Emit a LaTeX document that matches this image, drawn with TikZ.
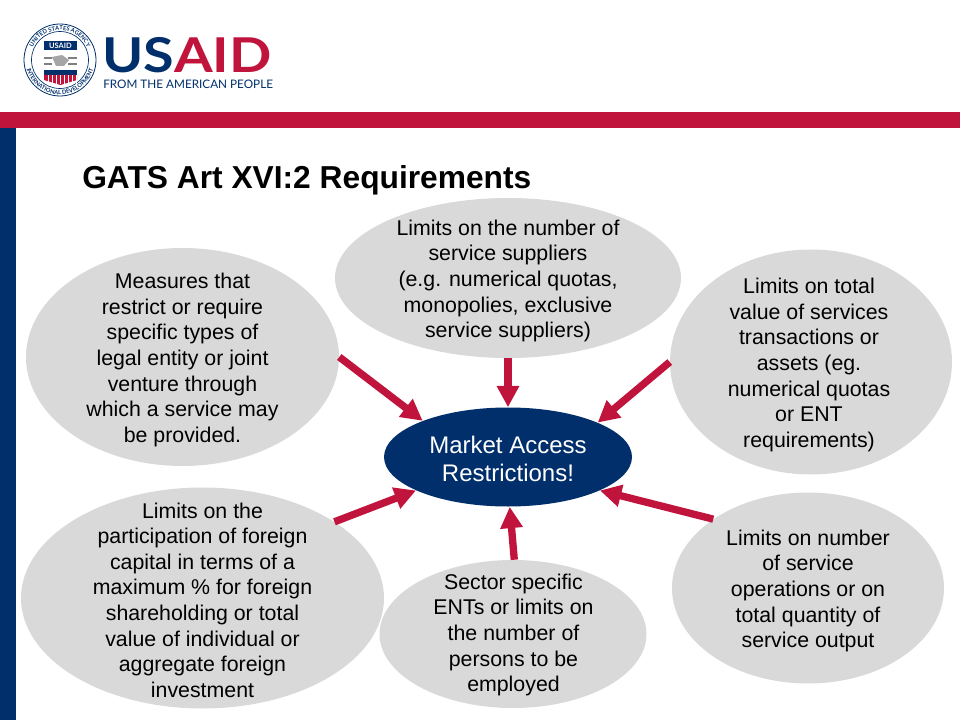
\documentclass[tikz,border=0pt]{standalone}
\usepackage{fontspec}
\setmainfont{Liberation Sans}
\newfontfamily\logofont{Lato}
\newfontfamily\wordfont[FakeStretch=1.16]{Lato}
\usetikzlibrary{arrows.meta,shapes.geometric,decorations.text}
\definecolor{usred}{HTML}{C1143C}
\definecolor{usblue}{HTML}{002F6C}
\definecolor{bubblegray}{HTML}{D9D9D9}
\tikzset{
  bubble/.style={ellipse,fill=bubblegray,inner sep=0pt},
  bubbletext/.style={align=center,inner sep=0.75pt,font=\fontsize{16}{19.2}\selectfont},
  pointer/.style={draw=usred,line width=5.5pt,-{Triangle[length=16pt,width=16pt]}},
}
\begin{document}
\begin{tikzpicture}[x=0.75pt,y=0.75pt,yscale=-1]
\useasboundingbox (0,0) rectangle (960,720);

%Shape: Bands
\fill [usred] (0,112) rectangle (960,128);
\fill [usblue] (0,128) rectangle (16,720);

%Shape: Seal
\draw [usblue,line width=0.6pt] (60,60) circle (36);
\draw [usblue,line width=0.5pt] (60,60) circle (28.5);
\path [decorate,decoration={text along path,text align=center,
  text={|\logofont\bfseries\fontsize{4.3}{5}\selectfont\color{usblue}|UNITED STATES AGENCY}}]
  (30,60) arc [start angle=180,end angle=360,radius=30];
\path [decorate,decoration={text along path,text align=center,
  text={|\logofont\bfseries\fontsize{4.3}{5}\selectfont\color{usblue}|INTERNATIONAL DEVELOPMENT}}]
  (25.5,60) arc [start angle=180,end angle=0,radius=34.5];
%Shape: Seal inner
\fill [usblue] (44,41) rectangle (77,50);
\draw [gray,line width=1pt] (44,58) -- (52,58) (68,58) -- (77,58) (44,64) -- (52,64) (68,64) -- (77,64);
\fill [gray!70] (52,57) -- (62,55) -- (69,60) -- (64,66) -- (56,66) -- cycle;
\fill [usblue] (44,70) rectangle (77,75);
\fill [usred] (44,75) -- (77,75) -- (77,80) -- (60.5,85) -- (44,80) -- cycle;
\foreach \stripe in {48,52,...,76}
  \draw [white,line width=0.7pt] (\stripe,75) -- (\stripe,84);

% Text Node
\draw (60.5,45.5) node (sealname) [inner sep=0pt,text=white,font=\logofont\bfseries\fontsize{5.6}{6}\selectfont] {USAID};
% Text Node
\draw (102,72.5) node (wordmark) [anchor=base west,inner sep=0pt,font=\wordfont\bfseries\fontsize{36}{36}\selectfont] {\textcolor{usblue}{US}\textcolor{usred}{AID}};
% Text Node
\draw (103,89) node (tagline) [anchor=base west,inner sep=0pt,text=usblue,font=\logofont\fontsize{8.8}{10}\selectfont] {FROM THE AMERICAN PEOPLE};
% Text Node
\draw (82,180) node (title) [anchor=west,inner sep=0pt,font=\bfseries\fontsize{23.8}{26}\selectfont] {GATS Art XVI:2 Requirements};

%Shape: Ellipse
\node (suppliers) [bubble,minimum width=259.5pt,minimum height=120pt] at (508,278) {};
\node (measures) [bubble,minimum width=234.75pt,minimum height=163.5pt] at (182.5,357) {};
\node (transactions) [bubble,minimum width=211.5pt,minimum height=168.75pt] at (811,362) {};
\node (capital) [bubble,minimum width=272.25pt,minimum height=165.75pt] at (202.5,598) {};
\node (persons) [bubble,minimum width=200.25pt,minimum height=111pt] at (513,634) {};
\node (operations) [bubble,minimum width=204pt,minimum height=143.25pt] at (808,588) {};
\node (market) [ellipse,fill=usblue,inner sep=0pt,minimum width=186pt,minimum height=74.25pt] at (508,457) {};

% Text Node
\node (supplierstext) [bubbletext] at (508,281) {Limits on the number of\\service suppliers\\(e.g. numerical quotas,\\monopolies, exclusive\\service suppliers)};
% Text Node
\node (measurestext) [bubbletext] at (182.5,360) {Measures that\\restrict or require\\specific types of\\legal entity or joint\\venture through\\which a service may\\be provided.};
% Text Node
\node (transactionstext) [bubbletext] at (809,365) {Limits on total\\value of services\\transactions or\\assets (eg.\\numerical quotas\\or ENT\\requirements)};
% Text Node
\node (capitaltext) [bubbletext] at (202.5,600) {Limits on the\\participation of foreign\\capital in terms of a\\maximum \% for foreign\\shareholding or total\\value of individual or\\aggregate foreign\\investment};
% Text Node
\node (personstext) [bubbletext] at (513.5,635) {Sector specific\\ENTs or limits on\\the number of\\persons to be\\employed};
% Text Node
\node (operationstext) [bubbletext] at (808,591) {Limits on number\\of service\\operations or on\\total quantity of\\service output};
% Text Node
\node (markettext) [bubbletext,text=white,font=\fontsize{18}{21}\selectfont] at (508,458.5) {Market Access\\Restrictions!};

%Straight Lines
\draw [pointer] (measures.0) -- (market.157.8);
\draw [pointer] (suppliers.270) -- (market.90);
\draw [pointer] (transactions.180) -- (market.21.5);
\draw [pointer] (capital.30.7) -- (market.200.6);
\draw [pointer] (persons.89) -- (market.272);
\draw [pointer] (operations.144.8) -- (market.-20);

\end{tikzpicture}
\end{document}
